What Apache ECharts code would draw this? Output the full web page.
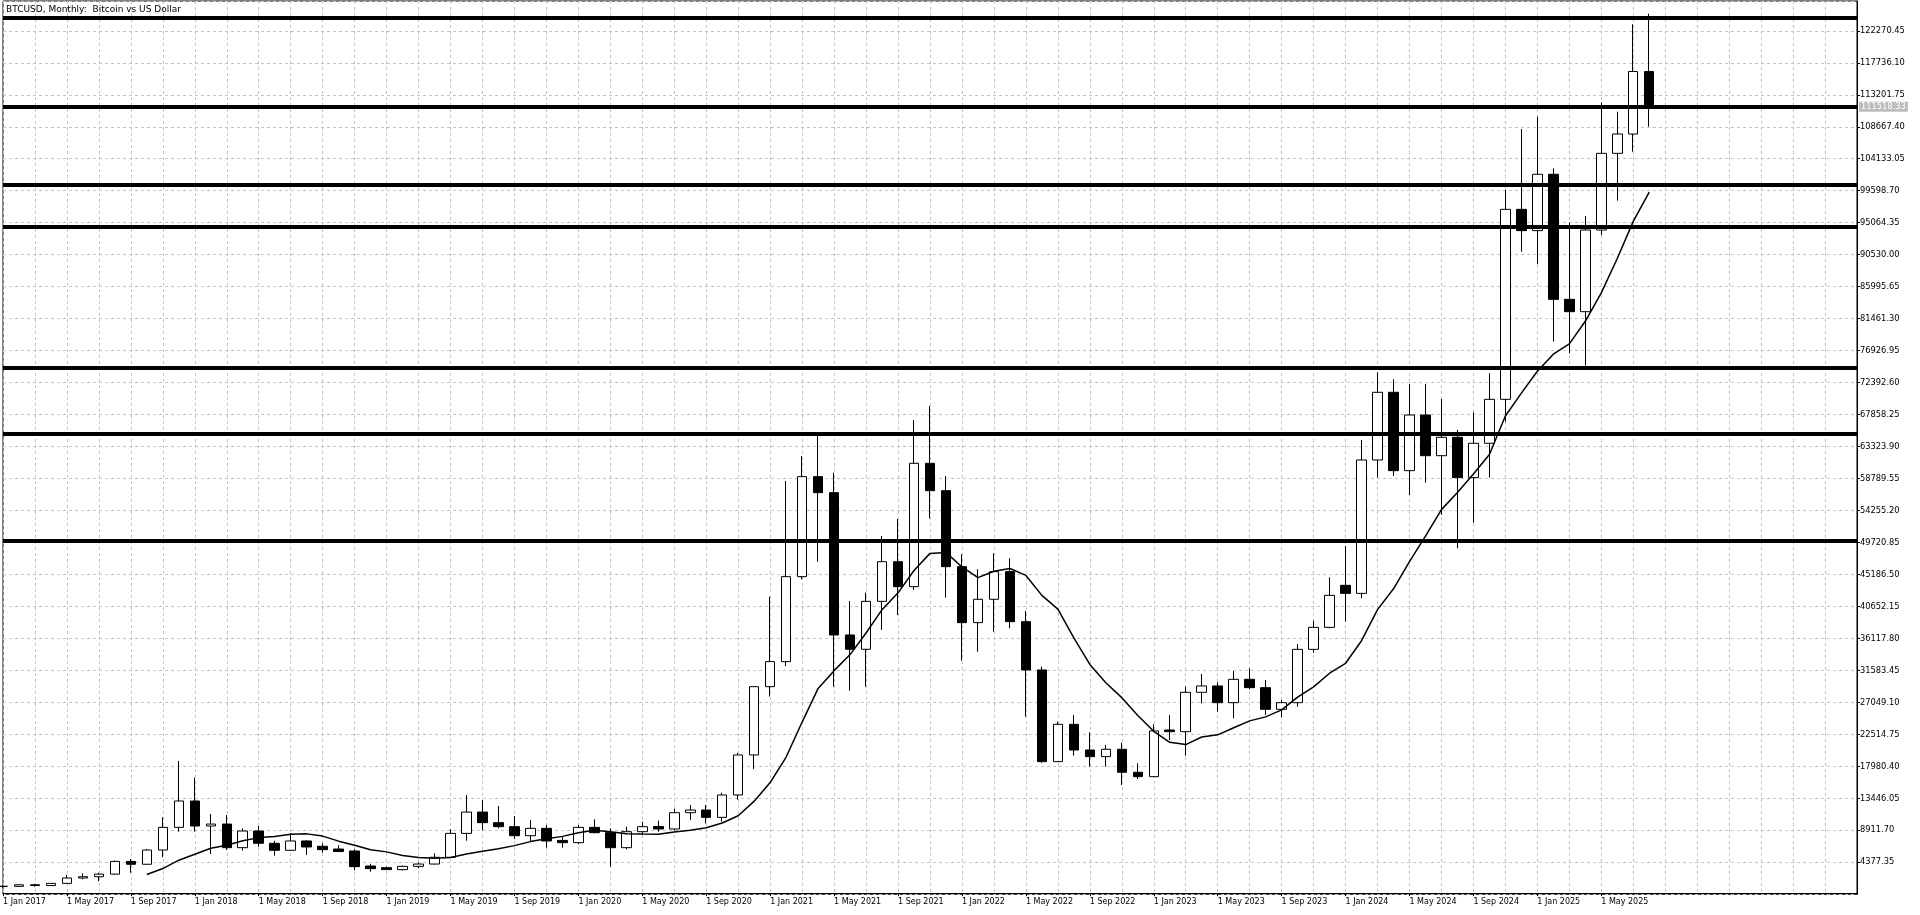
<!DOCTYPE html>
<html>
<head>
<meta charset="utf-8">
<script src="https://cdn.jsdelivr.net/npm/echarts@6/dist/echarts.min.js"></script>
<style>
html,body{margin:0;padding:0;background:#ffffff;}
#chart{width:1920px;height:915px;}
</style>
</head>
<body>
<div id="chart"></div>
<script>
// ---- data (monthly BTCUSD candles, Jan 2017 .. Aug 2025) ----
const monthNames = ['Jan','Feb','Mar','Apr','May','Jun','Jul','Aug','Sep','Oct','Nov','Dec'];
const firstYear = 2017;
const candleCount = 104;
const emptySlots = 13;

const opens = [
  975, 965, 1190, 1080, 1390, 2150, 2330, 2700, 4500, 4100, 6120, 9330,
  13070, 9520, 9800, 6450, 8815, 7070, 6080, 7400, 6650, 6260, 5980, 3850,
  3620, 3340, 3800, 4130, 5090, 8480, 11500, 10000, 9430, 8150, 9190, 7480,
  7160, 9330, 8580, 6450, 8720, 9450, 9100, 11410, 11790, 10750, 13920, 19600,
  29280, 32830, 44880, 59060, 56790, 36610, 34580, 41380, 47000, 43460, 60950, 57070,
  46300, 38360, 41670, 45590, 38500, 31650, 18650, 23940, 20300, 19360, 20400, 17140,
  16520, 23140, 22900, 28480, 29380, 27010, 30320, 29140, 26070, 27010, 34570, 37690,
  43650, 42510, 61420, 71020, 59910, 67800, 62030, 64640, 58920, 63790, 70020, 96960,
  93940, 101930, 84200, 82450, 94030, 104900, 107640, 116500
];
const highs = [
  1150, 1200, 1300, 1390, 2600, 2800, 2900, 4620, 4850, 6250, 10750, 18750,
  16380, 11230, 11080, 9190, 9520, 7440, 8530, 7500, 7070, 6780, 6220, 4140,
  3760, 3900, 4330, 5650, 9080, 13920, 13210, 12360, 10940, 10370, 9670, 8010,
  9660, 10470, 9190, 9430, 10140, 10280, 12000, 12500, 12500, 14250, 19900, 29300,
  42040, 58440, 61990, 64870, 59620, 41430, 42610, 50640, 53050, 67090, 69080, 59150,
  48050, 45920, 48190, 47480, 40010, 32120, 24320, 25260, 22810, 21010, 21340, 18410,
  23940, 25260, 29280, 31080, 29900, 31500, 31880, 30230, 27390, 35330, 38640, 44780,
  49230, 64260, 73850, 72860, 72200, 72200, 70070, 65680, 68180, 73710, 99700, 108350,
  110100, 102780, 95070, 96020, 112130, 110810, 123200, 124700
];
const lows = [
  760, 930, 900, 1070, 1350, 1960, 1700, 2620, 2900, 4050, 5100, 8720,
  8720, 5550, 6120, 6030, 6590, 5320, 6000, 5410, 5740, 5850, 3290, 3050,
  3290, 3200, 3530, 4050, 5030, 7440, 8960, 9200, 7680, 7300, 6450, 6450,
  6930, 8480, 3760, 6220, 8250, 8720, 8900, 10400, 9900, 10140, 13250, 17600,
  27870, 32210, 44500, 47000, 29280, 28720, 29280, 37320, 39440, 42990, 53150, 41900,
  32970, 34240, 37080, 37550, 25030, 18500, 18600, 19500, 17940, 17940, 15340, 16190,
  16450, 21720, 19500, 26920, 25740, 24790, 28900, 25260, 24930, 26450, 34100, 37550,
  38500, 41810, 58920, 59150, 56460, 58210, 53630, 48900, 52540, 58920, 66860, 90960,
  89170, 78200, 76550, 74800, 93320, 98190, 105140, 108680
];
const closes = [
  965, 1190, 1080, 1390, 2150, 2330, 2700, 4500, 4100, 6120, 9330, 13070,
  9520, 9800, 6450, 8815, 7070, 6080, 7400, 6550, 6170, 5900, 3760, 3480,
  3340, 3800, 4130, 5090, 8480, 11500, 10000, 9430, 8150, 9190, 7400, 7160,
  9330, 8580, 6450, 8720, 9430, 9100, 11410, 11790, 10750, 13920, 19600, 29280,
  32830, 44880, 59060, 56790, 36610, 34580, 41380, 47000, 43460, 60950, 57070, 46300,
  38360, 41670, 45590, 38500, 31650, 18650, 23940, 20300, 19360, 20400, 17140, 16520,
  23000, 22900, 28480, 29380, 27010, 30320, 29140, 26070, 27010, 34570, 37690, 42230,
  42510, 61420, 71020, 59910, 67800, 62030, 64640, 58920, 63790, 70020, 96960, 93940,
  101930, 84200, 82450, 94030, 104900, 107640, 116500, 111518.33
];
// horizontal support/resistance levels (thick black lines)
const levels = [124190, 111450, 100380, 94430, 74560, 65100, 50000];
const maPeriod = 10;
const lastPrice = 111518.33;
// price axis: first tick 4377.35, step 4534.35
const yTickStep = 4534.35;
const yMin = -157.00;
const yMax = 126500;

// ---- build ----
const categories = [];
for (let i = 0; i < candleCount + emptySlots; i++) {
  if (i < candleCount) {
    const y = firstYear + Math.floor(i / 12);
    categories.push('1 ' + monthNames[i % 12] + ' ' + y);
  } else {
    categories.push('');
  }
}
const candleData = opens.map((o, i) => [o, closes[i], lows[i], highs[i]]);
const maData = closes.map((c, i) => {
  if (i < maPeriod - 1) return null;
  let s = 0;
  for (let k = i - maPeriod + 1; k <= i; k++) s += closes[k];
  return s / maPeriod;
});

const FONT = 'DejaVu Sans';
const chart = echarts.init(document.getElementById('chart'), null, {renderer: 'canvas'});
chart.setOption({
  animation: false,
  backgroundColor: '#ffffff',
  title: {
    text: 'BTCUSD, Monthly:  Bitcoin vs US Dollar',
    left: 6, top: 5,
    padding: 0,
    textStyle: {fontFamily: FONT, fontSize: 9, fontWeight: 'normal', color: '#000'}
  },
  grid: {
    left: 2, right: 63, top: 1, bottom: 20.72,
    show: true, borderColor: '#000', borderWidth: 1, backgroundColor: 'transparent'
  },
  xAxis: {
    type: 'category',
    data: categories,
    boundaryGap: false,
    axisLine: {show: true, lineStyle: {color: '#000', width: 1}},
    axisTick: {
      show: true, length: 3,
      interval: (idx, val) => idx % 4 === 0 && val !== '',
      lineStyle: {color: '#000'}
    },
    axisLabel: {
      interval: 3, align: 'left', margin: 4,
      fontFamily: FONT, fontSize: 8, color: '#000'
    },
    splitLine: {show: true, interval: 1, lineStyle: {color: '#c4c4c4', type: [3, 3], width: 1}}
  },
  yAxis: {
    type: 'value',
    position: 'right',
    min: yMin, max: yMax, interval: yTickStep,
    scale: false,
    axisLine: {show: true, lineStyle: {color: '#000', width: 1}},
    axisTick: {show: true, length: 3, lineStyle: {color: '#000'}},
    axisLabel: {
      showMinLabel: false, showMaxLabel: false,
      margin: 3, fontFamily: FONT, fontSize: 8.3, color: '#000',
      formatter: v => v.toFixed(2)
    },
    splitLine: {show: true, lineStyle: {color: '#c4c4c4', type: [3, 3], width: 1}}
  },
  series: [
    {
      type: 'candlestick',
      name: 'BTCUSD',
      data: candleData,
      barWidth: 10,
      clip: true,
      z: 2,
      itemStyle: {
        color: '#ffffff', color0: '#000000',
        borderColor: '#000000', borderColor0: '#000000', borderWidth: 1
      },
      emphasis: {disabled: true},
      markLine: {
        silent: true,
        symbol: ['none', 'none'],
        label: {show: false},
        lineStyle: {color: '#000', width: 4, type: 'solid'},
        emphasis: {disabled: true},
        data: levels.map(v => ({yAxis: v}))
      }
    },
    {
      type: 'line',
      name: 'MA',
      data: maData,
      showSymbol: false,
      symbol: 'none',
      connectNulls: false,
      z: 4,
      lineStyle: {color: '#000', width: 1.5},
      emphasis: {disabled: true},
      markLine: {
        silent: true,
        symbol: ['none', 'none'],
        lineStyle: {color: 'rgba(0,0,0,0)', width: 1},
        emphasis: {disabled: true},
        label: {
          show: true, position: 'end', distance: 2,
          formatter: () => lastPrice.toFixed(2),
          color: '#ffffff', backgroundColor: '#bdbdbd',
          padding: [1, 2, 1, 2],
          fontFamily: FONT, fontSize: 8.3
        },
        data: [{yAxis: lastPrice}]
      }
    }
  ]
});
</script>
</body>
</html>
